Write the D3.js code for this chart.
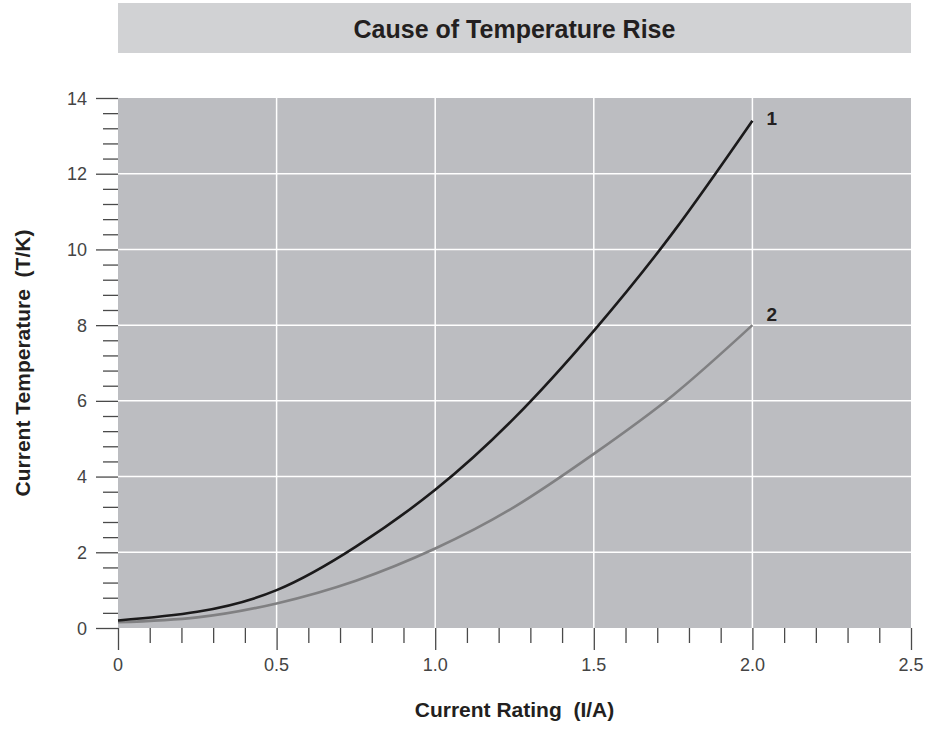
<!DOCTYPE html>
<html><head><meta charset="utf-8">
<script src="https://cdn.jsdelivr.net/npm/d3@7"></script>
<style>body{margin:0;background:#fff;}svg{display:block;font-family:"Liberation Sans",Arial,sans-serif;}text{white-space:pre;}</style>
</head><body><svg id="c" width="933" height="734"></svg>
<script>
const title = "Cause of Temperature Rise";
const xLabel = "Current Rating  (I/A)";
const yLabel = "Current Temperature  (T/K)";
const xValues = [0, 0.25, 0.5, 0.75, 1.0, 1.25, 1.5, 1.75, 2.0];
const series1 = [0.2, 0.43, 1.0, 2.15, 3.65, 5.55, 7.85, 10.45, 13.4];
const series2 = [0.15, 0.28, 0.65, 1.25, 2.1, 3.2, 4.6, 6.15, 8.0];
const seriesNames = ["1", "2"];
const xTickLabels = ["0", "0.5", "1.0", "1.5", "2.0", "2.5"];
const yTickLabels = ["0", "2", "4", "6", "8", "10", "12", "14"];

const svg = d3.select("#c");
const L = 118, R = 911, T = 98, B = 628;
const x = d3.scaleLinear().domain([0, 2.5]).range([L, R]);
const y = d3.scaleLinear().domain([0, 14]).range([B, T]);

// title band
svg.append("rect").attr("x", L).attr("y", 3).attr("width", R - L).attr("height", 50).attr("fill", "#d1d2d4");
svg.append("text").attr("x", (L + R) / 2).attr("y", 38).attr("text-anchor", "middle")
  .attr("font-size", 25).attr("font-weight", "bold").attr("fill", "#231f20").text(title);

// plot bg
svg.append("rect").attr("x", L).attr("y", T).attr("width", R - L).attr("height", B - T).attr("fill", "#bcbdc1");

// grid
const xMajor = xTickLabels.map(Number);
const yMajor = yTickLabels.map(Number);
svg.append("g").selectAll("line").data(xMajor.filter(v => v > 0 && v < 2.5)).join("line")
  .attr("x1", d => x(d)).attr("x2", d => x(d)).attr("y1", T).attr("y2", B)
  .attr("stroke", "#fff").attr("stroke-width", 1.5);
svg.append("g").selectAll("line").data(yMajor.filter(v => v > 0 && v < 14)).join("line")
  .attr("x1", L).attr("x2", R).attr("y1", d => y(d)).attr("y2", d => y(d))
  .attr("stroke", "#fff").attr("stroke-width", 1.5);

// x axis
const xAxis = d3.axisBottom(x).tickValues(d3.range(0, 26).map(i => i / 10)).tickSize(15).tickFormat("");
const gx = svg.append("g").attr("transform", `translate(0,${B})`).call(xAxis);
gx.select(".domain").remove();
gx.selectAll(".tick line").attr("stroke", "#4a4a4a").attr("stroke-width", 1.3)
  .attr("y2", (d, i) => i % 5 === 0 ? 22 : 15);
svg.append("g").selectAll("text").data(xTickLabels).join("text")
  .attr("x", d => x(+d)).attr("y", 671).attr("text-anchor", "middle")
  .attr("font-size", 18).attr("fill", "#444").text(d => d);

// y axis
const yAxis = d3.axisLeft(y).tickValues(d3.range(0, 36).map(i => i * 0.4)).tickSize(15).tickFormat("");
const gy = svg.append("g").attr("transform", `translate(${L},0)`).call(yAxis);
gy.select(".domain").remove();
gy.selectAll(".tick line").attr("stroke", "#4a4a4a").attr("stroke-width", 1.3)
  .attr("x2", (d, i) => i % 5 === 0 ? -22 : -15);
svg.append("g").selectAll("text").data(yTickLabels).join("text")
  .attr("x", 87).attr("y", d => y(+d) + 6.5).attr("text-anchor", "end")
  .attr("font-size", 18).attr("fill", "#444").text(d => d);

// curves
const line = d3.line().x(d => x(d[0])).y(d => y(d[1])).curve(d3.curveNatural);
svg.append("path").datum(xValues.map((v, i) => [v, series2[i]])).attr("d", line)
  .attr("fill", "none").attr("stroke", "#808082").attr("stroke-width", 2.6);
svg.append("path").datum(xValues.map((v, i) => [v, series1[i]])).attr("d", line)
  .attr("fill", "none").attr("stroke", "#1b1a1b").attr("stroke-width", 2.6);

// series labels
svg.append("text").attr("x", x(2.0) + 14).attr("y", y(series1[8]) + 4).attr("font-size", 19)
  .attr("font-weight", "bold").attr("fill", "#231f20").text(seriesNames[0]);
svg.append("text").attr("x", x(2.0) + 14).attr("y", y(series2[8]) - 4).attr("font-size", 19)
  .attr("font-weight", "bold").attr("fill", "#231f20").text(seriesNames[1]);

// axis titles
svg.append("text").attr("x", (L + R) / 2).attr("y", 717).attr("text-anchor", "middle")
  .attr("font-size", 21).attr("font-weight", "bold").attr("fill", "#231f20").text(xLabel);
svg.append("text").attr("transform", `translate(30,${(T + B) / 2}) rotate(-90)`).attr("text-anchor", "middle")
  .attr("font-size", 21).attr("font-weight", "bold").attr("fill", "#231f20").text(yLabel);
</script></body></html>
